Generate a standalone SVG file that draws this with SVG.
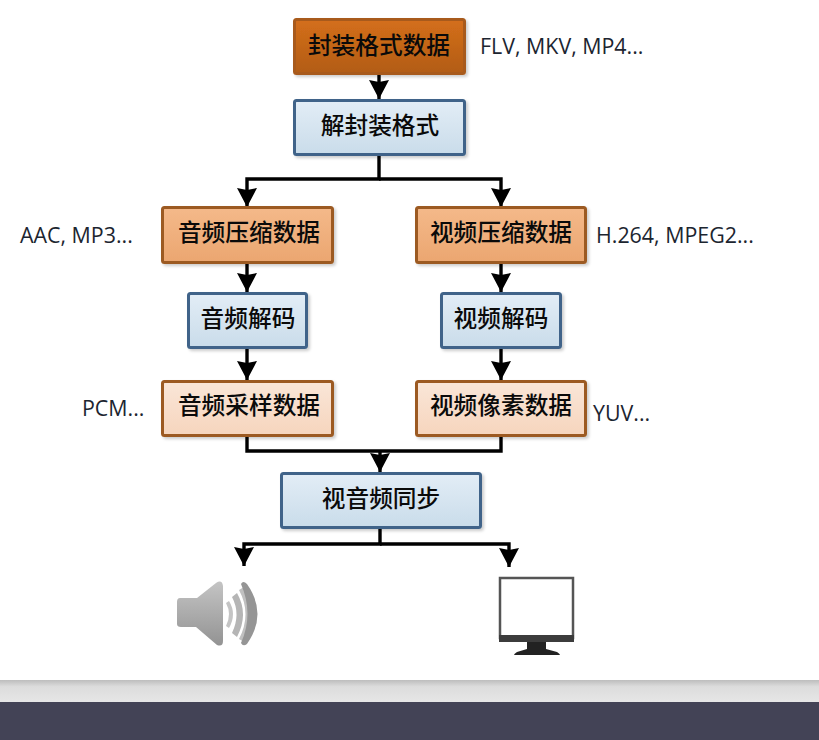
<svg xmlns="http://www.w3.org/2000/svg" width="819" height="740" viewBox="0 0 819 740">
<style>
.box{stroke-width:3;filter:url(#sh)}
.t{font-family:"Noto Sans CJK SC","Liberation Sans",sans-serif;font-weight:500;font-size:23.7px;fill:#0a0a0a;text-anchor:middle}
.n{font-family:"Open Sans","Noto Sans",sans-serif;font-size:21.400px;fill:#1c2530}
.c{fill:none;stroke:#000;stroke-width:3.4}
</style>
<defs>
<filter id="sh" x="-10%" y="-15%" width="125%" height="135%"><feDropShadow dx="2" dy="2" stdDeviation="1.5" flood-color="#000" flood-opacity=".2"/></filter>
<linearGradient id="dk" x1="0" y1="0" x2="0" y2="1"><stop offset="0" stop-color="#d46f1b"/><stop offset="1" stop-color="#b25c14"/></linearGradient>
<linearGradient id="bl" x1="0" y1="0" x2="0" y2="1"><stop offset="0" stop-color="#e3edf6"/><stop offset="1" stop-color="#c9dcea"/></linearGradient>
<linearGradient id="or" x1="0" y1="0" x2="0" y2="1"><stop offset="0" stop-color="#f4b98a"/><stop offset="1" stop-color="#eba670"/></linearGradient>
<linearGradient id="lt" x1="0" y1="0" x2="0" y2="1"><stop offset="0" stop-color="#fae6d8"/><stop offset="1" stop-color="#f6d5bd"/></linearGradient>
<linearGradient id="sp" x1="0" y1="0" x2="0" y2="1"><stop offset="0" stop-color="#c4c4c4"/><stop offset="1" stop-color="#939393"/></linearGradient>
<linearGradient id="bar" x1="0" y1="0" x2="0" y2="1"><stop offset="0" stop-color="#bdbdbd"/><stop offset=".3" stop-color="#dcdcdc"/><stop offset="1" stop-color="#e6e6e6"/></linearGradient>
<marker id="a" markerUnits="userSpaceOnUse" markerWidth="22" markerHeight="22" refX="19" refY="11" orient="auto"><path d="M0 1L19 11L0 21L2 11Z" fill="#000"/></marker>
</defs>
<rect width="819" height="740" fill="#fff"/>
<g id="connectors" class="conn">
<path class="c" d="M379 74V99" marker-end="url(#a)"/>
<path class="c" d="M379 155V179H247V207" marker-end="url(#a)"/>
<path class="c" d="M379 179H501V207" marker-end="url(#a)"/>
<path class="c" d="M247 263V292" marker-end="url(#a)"/>
<path class="c" d="M501 263V292" marker-end="url(#a)"/>
<path class="c" d="M247 348V380" marker-end="url(#a)"/>
<path class="c" d="M501 348V380" marker-end="url(#a)"/>
<path class="c" d="M247 436V451H501V436"/>
<path class="c" d="M380 451V472" marker-end="url(#a)"/>
<path class="c" d="M380 528V544H244V566" marker-end="url(#a)"/>
<path class="c" d="M380 544H509V567" marker-end="url(#a)"/>
</g>
<g id="n1"><rect class="box" x="294.500" y="19.500" width="170" height="54" rx="2" fill="url(#dk)" stroke="#a85a1c"/><text class="t" x="379" y="54">封装格式数据</text></g>
<g id="n2"><rect class="box" x="294.500" y="100.500" width="170" height="54" rx="2" fill="url(#bl)" stroke="#3f6489"/><text class="t" x="380" y="134">解封装格式</text></g>
<g id="n3"><rect class="box" x="162.500" y="207.500" width="170" height="55" rx="2" fill="url(#or)" stroke="#9c5a22"/><text class="t" x="249" y="241">音频压缩数据</text></g>
<g id="n4"><rect class="box" x="416.500" y="207.500" width="169" height="55" rx="2" fill="url(#or)" stroke="#9c5a22"/><text class="t" x="501" y="241">视频压缩数据</text></g>
<g id="n5"><rect class="box" x="188.500" y="293.500" width="118" height="54" rx="2" fill="url(#bl)" stroke="#3f6489"/><text class="t" x="248" y="327">音频解码</text></g>
<g id="n6"><rect class="box" x="441.500" y="293.500" width="119" height="54" rx="2" fill="url(#bl)" stroke="#3f6489"/><text class="t" x="501" y="327">视频解码</text></g>
<g id="n7"><rect class="box" x="162.500" y="381.500" width="170" height="54" rx="2" fill="url(#lt)" stroke="#9c5a22"/><text class="t" x="249" y="414">音频采样数据</text></g>
<g id="n8"><rect class="box" x="416.500" y="381.500" width="169" height="54" rx="2" fill="url(#lt)" stroke="#9c5a22"/><text class="t" x="501" y="414">视频像素数据</text></g>
<g id="n9"><rect class="box" x="281.500" y="473.500" width="199" height="54" rx="2" fill="url(#bl)" stroke="#3f6489"/><text class="t" x="381" y="507">视音频同步</text></g>
<text class="n" x="480" y="53.500">FLV, MKV, MP4...</text>
<text class="n" x="20" y="243">AAC, MP3...</text>
<text class="n" x="596" y="243">H.264, MPEG2...</text>
<text class="n" x="82" y="415.500">PCM...</text>
<text class="n" x="593" y="421">YUV...</text>
<g id="speaker">
<path d="M180 598Q177 598 177 602V624Q177 627 181 627H196L217 645Q223 647 223 641V586Q222 579 216 583L197 598Z" fill="url(#sp)"/>
<path d="M226 603Q232 614 226 626L229 628Q237 614 229 601Z" fill="#c4c4c4"/>
<path d="M232 597Q241 614 232 633L237 637Q249 614 237 593Z" fill="#b5b5b5"/>
<path d="M239 590Q252 614 239 639L244 642Q258 614 244 587Z" fill="#c0c0c0"/>
<path d="M241 584Q254 614 241 643Q243 647 247 644Q268 614 247 584Q243 580 241 584Z" fill="#959595"/>
</g>
<g id="monitor">
<rect x="500" y="578" width="73" height="60" fill="#fff" stroke="#555" stroke-width="2.500"/>
<rect x="499" y="635" width="75" height="7" fill="#3c3c3c"/>
<path d="M527 642H546V649L557 652Q560 654 560 655H514Q514 654 517 652L527 649Z" fill="#222"/>
</g>
<rect x="0" y="680" width="819" height="22" fill="url(#bar)"/>
<rect x="0" y="702" width="819" height="38" fill="#434356"/>
</svg>
